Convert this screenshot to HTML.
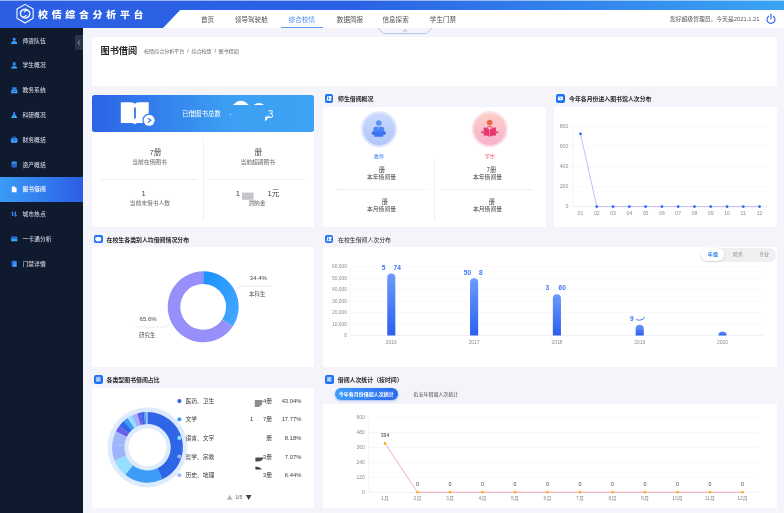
<!DOCTYPE html>
<html lang="zh-CN">
<head>
<meta charset="utf-8">
<title>校情综合分析平台 - 图书借阅</title>
<style>
*{box-sizing:border-box;margin:0;padding:0}
html,body{width:784px;height:513px;overflow:hidden}
body{position:relative;background:#f4f4fa;font-family:"Liberation Sans","Noto Sans CJK SC",sans-serif;color:#333;font-size:6px}
.a{position:absolute}
.c,.l,.r{position:absolute;white-space:nowrap;line-height:1}
.c{transform:translate(-50%,-50%)}
.l{transform:translate(0,-50%)}
.r{transform:translate(-100%,-50%)}
/* header */
#hd{left:0;top:0;width:784px;height:28px;background:linear-gradient(90deg,#2b5fe3 0%,#2b62e4 45%,#3aa4f3 100%)}
#nav{left:0;top:10px;width:784px;height:18px;background:#fff;clip-path:polygon(163px 18px,180.2px 0,784px 0,784px 18px)}
#logo{left:38.4px;top:14.5px;color:#fff;font-weight:900;font-size:9.4px;letter-spacing:3.5px;transform:translate(0,-50%) scaleX(1.06);transform-origin:0 50%}
.nv{top:20.1px;font-size:6.6px;color:#505050}
.nv.on{color:#4a8df5}
#ul{left:280.5px;top:26.6px;width:42.5px;height:1.2px;background:#5a97f3}
#usr{left:759.5px;top:19.9px;font-size:5.8px;color:#555}
/* sidebar */
#sb{left:0;top:28px;width:82.8px;height:485px;background:#0f1a2f}
.mi{left:22.5px;font-size:5.8px;color:#ccd3de;font-weight:500;margin-top:1px}
#act{left:0;top:176.8px;width:82.8px;height:24.9px;background:linear-gradient(90deg,#3a9cf6,#2b5ee6)}
#col{left:75.4px;top:35.3px;width:7.4px;height:14.7px;background:#2a3549;border-radius:1.5px 0 0 1.5px}
/* cards */
.cd{background:#fff;border-radius:2px}
.hi{width:8.6px;height:8.6px;background:#1d70f2;border-radius:2.1px;margin-top:-0.6px}
.ht{font-size:5.9px;font-weight:700;color:#2a2a2a;margin-top:0.6px}
.v{font-size:7.7px;color:#444}
.k{font-size:5.75px;color:#6a6a6a}
.dv{border-left:0.6px dotted #dfe1e8;width:0}
.dh{border-top:0.6px dotted #dfe1e8;height:0}
</style>
</head>
<body>
<!-- ===== header ===== -->
<div id="hd" class="a"></div>
<div id="nav" class="a"></div>
<div id="logo" class="l">校情综合分析平台</div>
<div class="c nv" style="left:207.5px">首页</div>
<div class="c nv" style="left:251.3px">领导驾驶舱</div>
<div class="c nv on" style="left:301.8px">综合校情</div>
<div class="c nv" style="left:350px">数据简报</div>
<div class="c nv" style="left:395.6px">信息探索</div>
<div class="c nv" style="left:443px">学生门禁</div>
<div id="ul" class="a"></div>
<div id="usr" class="r">您好超级管理员，今天是2021.1.21</div>

<!-- ===== sidebar ===== -->
<div id="sb" class="a"></div>
<div id="act" class="a"></div>
<div id="col" class="a"></div>
<div class="l mi" style="top:40.7px">师资队伍</div>
<div class="l mi" style="top:65.4px">学生概况</div>
<div class="l mi" style="top:90.2px">教务系统</div>
<div class="l mi" style="top:114.9px">科研概况</div>
<div class="l mi" style="top:139.7px">财务概括</div>
<div class="l mi" style="top:164.6px">资产概括</div>
<div class="l mi" style="top:189.4px;color:#fff">图书借阅</div>
<div class="l mi" style="top:214.1px">城市热点</div>
<div class="l mi" style="top:238.9px">一卡通分析</div>
<div class="l mi" style="top:263.7px">门禁详情</div>

<!-- ===== title card ===== -->
<div class="a cd" style="left:92px;top:36.5px;width:685px;height:49.5px"></div>
<div class="l" style="left:100.5px;top:51.6px;font-size:9.2px;font-weight:700;color:#2b2b2b">图书借阅</div>
<div class="l" style="left:144px;top:51.9px;font-size:5.05px;color:#666">校情综合分析平台&nbsp; /&nbsp; 综合校情&nbsp; /&nbsp; 图书借阅</div>

<!-- ===== row 1 ===== -->
<div class="a cd" style="left:92px;top:95px;width:222px;height:132px"></div>
<div class="a" style="left:92px;top:95px;width:222px;height:36.8px;border-radius:2.5px;background:linear-gradient(90deg,#2c63e6 0%,#3c9ff3 62%,#3ea3f4 100%)"></div>
<div class="l" style="left:182px;top:113.6px;font-size:6.5px;color:#fff">已借图书总数</div>
<div class="l" style="left:268.3px;top:113.9px;font-size:10.8px;color:#fff;transform:translate(0,-50%) scaleX(.88);transform-origin:0 50%">3</div>

<div class="a dv" style="left:203.2px;top:138px;height:83px"></div>
<div class="a dh" style="left:101px;top:179.2px;width:96px"></div>
<div class="a dh" style="left:210px;top:179.2px;width:96px"></div>
<div class="l v" style="left:149.6px;top:152.6px">7册</div>
<div class="c k" style="left:149.5px;top:163.2px">当前在借图书</div>
<div class="l v" style="left:254.6px;top:152.6px">册</div>
<div class="c k" style="left:257.8px;top:163.2px">当前超期图书</div>
<div class="l v" style="left:141.4px;top:194.2px">1</div>
<div class="c k" style="left:149.8px;top:204.2px">当前未借书人数</div>
<div class="l v" style="left:235.7px;top:194.2px">1</div>
<div class="l v" style="left:267.6px;top:194.2px">1元</div>
<div class="c k" style="left:257px;top:204.2px">滞纳金</div>

<div class="a hi" style="left:324.8px;top:94.6px"></div>
<div class="l ht" style="left:338px;top:99.6px">师生借阅概况</div>
<div class="a cd" style="left:323px;top:106.6px;width:222.5px;height:120px"></div>
<div class="c" style="left:378.8px;top:156.2px;font-size:5px;color:#3b7cf5">教师</div>
<div class="c" style="left:489.8px;top:156.2px;font-size:5px;color:#ee4d6f">学生</div>
<div class="a dv" style="left:434.3px;top:159px;height:62px"></div>
<div class="a dh" style="left:336px;top:189.3px;width:92px"></div>
<div class="a dh" style="left:441px;top:189.3px;width:92px"></div>
<div class="c v" style="left:382px;top:170.3px;font-size:6.3px">册</div>
<div class="c k" style="left:381.5px;top:178.2px;font-size:5.8px;color:#444">本年借阅量</div>
<div class="c v" style="left:491.5px;top:170.3px;font-size:6.3px">7册</div>
<div class="c k" style="left:487.5px;top:178.2px;font-size:5.8px;color:#444">本年借阅量</div>
<div class="c v" style="left:385px;top:202px;font-size:6.3px">册</div>
<div class="c k" style="left:381.5px;top:210px;font-size:5.8px;color:#444">本月借阅量</div>
<div class="c v" style="left:492px;top:202px;font-size:6.3px">册</div>
<div class="c k" style="left:487.5px;top:210px;font-size:5.8px;color:#444">本月借阅量</div>

<div class="a hi" style="left:556px;top:94.6px"></div>
<div class="l ht" style="left:569px;top:99.6px">今年各月份进入图书馆人次分布</div>
<div class="a cd" style="left:554.3px;top:106.6px;width:222.5px;height:120px"></div>

<!-- ===== row 2 ===== -->
<div class="a hi" style="left:94px;top:235.2px"></div>
<div class="l ht" style="left:106.6px;top:240.2px">在校生各类别人均借阅情况分布</div>
<div class="a cd" style="left:91.8px;top:247.2px;width:222.5px;height:120px"></div>

<div class="a hi" style="left:324.8px;top:235.2px"></div>
<div class="l ht" style="left:338px;top:240.2px;font-weight:400">在校生借阅人次分布</div>
<div class="a cd" style="left:323px;top:247.2px;width:454px;height:120px"></div>
<div class="a" style="left:700.8px;top:247.5px;width:75.6px;height:14px;border-radius:7px;background:#f0f0f3"></div>
<div class="a" style="left:701.4px;top:248.4px;width:22.9px;height:12.2px;border-radius:6.1px;background:#fff;box-shadow:0 0.6px 1.6px rgba(0,0,0,.2)"></div>
<div class="c" style="left:712.9px;top:255.1px;font-size:5.1px;font-weight:700;color:#2b7df2">年级</div>
<div class="c" style="left:738.1px;top:255.1px;font-size:5.1px;color:#8a8a8a">院系</div>
<div class="c" style="left:764.1px;top:255.1px;font-size:5.1px;color:#8a8a8a">专业</div>

<!-- ===== row 3 ===== -->
<div class="a hi" style="left:94px;top:375.5px"></div>
<div class="l ht" style="left:106.6px;top:380.6px">各类型图书借阅占比</div>
<div class="a cd" style="left:91.8px;top:387.6px;width:222.5px;height:120px"></div>

<div class="a hi" style="left:325px;top:375.5px"></div>
<div class="l ht" style="left:337.8px;top:380.6px">借阅人次统计（按时间）</div>
<div class="a" style="left:335px;top:388.3px;width:62.6px;height:11.5px;border-radius:5.8px;background:linear-gradient(90deg,#3c9cfb,#2c68ef);box-shadow:0 1px 2.5px rgba(43,110,240,.4)"></div>
<div class="c" style="left:366.3px;top:394.1px;font-size:5px;font-weight:700;color:#fff">今年各月份借阅人次统计</div>
<div class="c" style="left:436px;top:394.2px;font-size:5px;color:#444">近五年借阅人次统计</div>
<div class="a cd" style="left:322.6px;top:403.6px;width:454.3px;height:104px"></div>

<!-- ===== graphics overlay ===== -->
<svg class="a" style="left:0;top:0" width="784" height="513" viewBox="0 0 784 513" font-family="Liberation Sans, Noto Sans CJK SC, sans-serif">
<!--GFX-->
<defs>
<linearGradient id="gb" x1="0" y1="0" x2="0" y2="1"><stop offset="0" stop-color="#6b9bfb"/><stop offset="1" stop-color="#2b5ff0"/></linearGradient>
<linearGradient id="gd" x1="0" y1="0" x2="1" y2="1"><stop offset="0" stop-color="#1890ff"/><stop offset="1" stop-color="#4aa9ff"/></linearGradient>
<radialGradient id="gt" cx="0.5" cy="0.5" r="0.5"><stop offset="0" stop-color="#9db9fb"/><stop offset="0.78" stop-color="#b9cdfc"/><stop offset="0.8" stop-color="#d9e4fd"/><stop offset="1" stop-color="#e3ebfe"/></radialGradient>
<radialGradient id="gs" cx="0.5" cy="0.5" r="0.5"><stop offset="0" stop-color="#f7a3b6"/><stop offset="0.78" stop-color="#f9bccb"/><stop offset="0.8" stop-color="#fcdde4"/><stop offset="1" stop-color="#fde6eb"/></radialGradient>
</defs>
<g fill="none" stroke="#fff" stroke-width="1.05" stroke-linejoin="round" stroke-linecap="round">
<polygon points="25.05,4.35 33.10,9.00 33.10,18.30 25.05,22.95 17.00,18.30 17.00,9.00"/>
<path d="M28.2 10.4Q25.8 8.4 23 9.6Q20 11 20.4 14Q20.8 16.6 23.4 17Q25 17 26 15.4M22 16.8Q24.4 18.8 27.2 17.6Q30.2 16.2 29.8 13.2Q29.4 10.6 26.8 10.2Q25.2 10.2 24.2 11.8" stroke-width="1.25"/>
</g>
<rect x="0" y="0" width="784" height="0.7" fill="#fff" opacity="0.75"/>
<path d="M378 28L383.5 33.6H426.5L432 28" fill="#f4f4fa" stroke="#7fa8ee" stroke-width="0.6"/>
<path d="M403.2 31.6L405.2 29.8L407.2 31.6" fill="none" stroke="#5a8ff0" stroke-width="0.7"/>
<g fill="none" stroke="#2b62e8" stroke-width="1.1" stroke-linecap="round"><path d="M768.6 16.2a4 4 0 1 0 4.8 0"/><path d="M771 14.2v4.6"/></g>
<path d="M79.6 40.6L78 42.7L79.6 44.8" fill="none" stroke="#cfd6e4" stroke-width="0.7"/>
<linearGradient id="gi" x1="0" y1="0" x2="0" y2="1"><stop offset="0" stop-color="#2c74ee"/><stop offset="1" stop-color="#3fb0ff"/></linearGradient>
<circle cx="14.2" cy="39.1" r="1.55" fill="url(#gi)"/><path d="M11.2 43.900000000000006q0.2 -3.2 3 -3.2q2.8 0 3 3.2z" fill="url(#gi)"/>
<path d="M12.0 63.00000000000001l2.2 -1l2.2 1l-2.2 1z" fill="url(#gi)"/><circle cx="14.2" cy="64.2" r="1.35" fill="url(#gi)"/><path d="M11.2 68.60000000000001q0.2 -2.8 3 -2.8q2.8 0 3 2.8z" fill="url(#gi)"/>
<path d="M12.2 87.2h4.4v2.2h-4.4zM11.2 89.8h6.2v3.4h-6.2z" fill="url(#gi)"/><path d="M12.399999999999999 91.4h3.8" stroke="#0f1a2f" stroke-width="0.6" opacity="0.7"/>
<path d="M13.299999999999999 111.9h1.8v2l2 3.6q0.2 0.6 -0.6 0.6h-4.6q-0.8 0 -0.6 -0.6l2 -3.6z" fill="url(#gi)"/>
<path d="M12.799999999999999 138.1v-1.2h2.8v1.2" fill="none" stroke="#2c7cf0" stroke-width="0.7"/><rect x="10.899999999999999" y="137.89999999999998" width="6.6" height="4.8" rx="0.9" fill="url(#gi)"/><rect x="13.5" y="139.89999999999998" width="1.4" height="1" fill="#0f1a2f" opacity="0.55"/>
<path d="M11.399999999999999 162.4q2.8 -1.4 5.6 0v4.6q-2.8 1.4 -5.6 0z" fill="#2a5fc4"/><ellipse cx="14.2" cy="162.5" rx="2.8" ry="0.9" fill="#3f9df8"/>
<path d="M11.799999999999999 186.5h3l1.8 1.8v4h-4.8z" fill="#fff"/><path d="M14.799999999999999 186.5v1.8h1.8" fill="#bcd3fb"/>
<path d="M12.799999999999999 211.1l-1.9 2.2h1.3v2.6h1.2zM15.399999999999999 217.1l1.9 -2.2h-1.3v-3.4h-1.2z" fill="url(#gi)"/><rect x="13.7" y="212.1" width="0.9" height="4" fill="#2a62d8"/>
<rect x="11.1" y="236.6" width="6.2" height="4.6" rx="0.5" fill="url(#gi)"/><rect x="11.1" y="237.6" width="6.2" height="0.8" fill="#1f4fb4"/>
<rect x="11.7" y="260.7" width="5" height="6" rx="0.5" fill="url(#gi)"/><rect x="11.7" y="260.7" width="1.2" height="6" fill="#1f4fb4"/>
<path d="M120.8 102.2h10q3 0 4 1.5q1 -1.5 4 -1.5h9.9v20.8h-10.4q-2.5 0 -3.5 1.4q-1 -1.4 -3.5 -1.4h-10.5z" fill="#fff"/>
<rect x="134.1" y="107.5" width="1.8" height="11" fill="#3478ea"/>
<circle cx="149.1" cy="120.3" r="6.7" fill="#3580ec"/><circle cx="149.1" cy="120.3" r="5.5" fill="#fff"/>
<path d="M147.9 118.2L150.9 120.3L147.9 122.4" fill="none" stroke="#3580ec" stroke-width="1.2"/>
<path d="M233 105q7.9 -8.6 15.8 0zM253.6 105q5.2 -3.8 10.5 0z" fill="#fff"/>
<path d="M265.1 116.6h4.6l-4.6 5z" fill="#fff"/><circle cx="230.3" cy="114.6" r="0.55" fill="#fff"/>
<rect x="242" y="192.6" width="11.6" height="7.2" fill="#c4c6cc"/>
<path d="M327.40000000000003 96.1h1.1l-0.9 4.6h-1.1z" fill="#fff"/><path d="M328.90000000000003 96.1h1.6q1.2 0 1.2 1.2q0 1 -1 1.2l1.1 2.2h-3.6l0.3 -1.6h1.2l-0.5 -1h-0.6z" fill="#fff"/>
<rect x="557.9" y="96.4" width="5" height="3.8" rx="0.7" fill="#fff"/><path d="M558.9 97.4h1.4v1.2h1.2" fill="none" stroke="#5b9af6" stroke-width="0.7"/>
<ellipse cx="98.3" cy="239.1" rx="3.1" ry="2.3" fill="#fff"/><circle cx="96.6" cy="237.9" r="0.9" fill="#d6e6fd"/><circle cx="100" cy="237.9" r="0.9" fill="#d6e6fd"/>
<path d="M327.40000000000003 236.7h1.1l-0.9 4.6h-1.1z" fill="#fff"/><path d="M328.90000000000003 236.7h1.6q1.2 0 1.2 1.2q0 1 -1 1.2l1.1 2.2h-3.6l0.3 -1.6h1.2l-0.5 -1h-0.6z" fill="#fff"/>
<rect x="95.8" y="376.79999999999995" width="5" height="5" rx="0.5" fill="#7db1f8"/><path d="M96.5 378.0h3.6M96.5 379.29999999999995h2.6M96.5 380.59999999999997h3.6" stroke="#e6f0fe" stroke-width="0.7"/>
<rect x="326.8" y="376.79999999999995" width="5" height="5" rx="0.5" fill="#7db1f8"/><path d="M327.5 378.0h3.6M327.5 379.29999999999995h2.6M327.5 380.59999999999997h3.6" stroke="#e6f0fe" stroke-width="0.7"/>
<linearGradient id="gt2" x1="0" y1="0" x2="0" y2="1"><stop offset="0" stop-color="#cad9fd"/><stop offset="1" stop-color="#b1c6fb"/></linearGradient>
<linearGradient id="gs2" x1="0" y1="0" x2="0" y2="1"><stop offset="0" stop-color="#fbd0c8"/><stop offset="1" stop-color="#f7b1cb"/></linearGradient>
<circle cx="379" cy="129.3" r="18.1" fill="#dde7fe"/><circle cx="379" cy="129.3" r="16" fill="url(#gt2)"/>
<circle cx="489.8" cy="129.2" r="18.1" fill="#fde0e7"/><circle cx="489.8" cy="129.2" r="16" fill="url(#gs2)"/>
<circle cx="378.8" cy="123" r="2.8" fill="#5b90f8"/>
<path d="M373.4 131.8v-2.6q0 -2.4 2.4 -2.4h6q2.4 0 2.4 2.4v2.6z" fill="#4a83f5"/>
<rect x="371.6" y="131.2" width="14.4" height="3.8" rx="1.9" fill="#3a75f0"/><rect x="374.3" y="134.4" width="9" height="2.4" rx="0.4" fill="#3a75f0"/>
<path d="M378.8 126.4v2.4" stroke="#c7d6fc" stroke-width="0.7"/>
<circle cx="489.7" cy="122.6" r="2.8" fill="#f0634c"/>
<path d="M486.4 127.4q3.3 -1.8 6.6 0" fill="none" stroke="#ea4a66" stroke-width="0.9"/>
<path d="M483.6 127.6q3.4 -0.2 5.9 1.8v7.4q-2.5 -1.6 -5.9 -1.2zM495.9 127.6q-3.4 -0.2 -5.9 1.8v7.4q2.5 -1.6 5.9 -1.2z" fill="#e8356f"/>
<circle cx="482.2" cy="132.3" r="1.15" fill="#e8356f"/><circle cx="497.2" cy="132.3" r="1.15" fill="#e8356f"/>
<g font-size="5.2" fill="#909090">
<path d="M572.7 206.60H767.7" stroke="#dfe1e8" stroke-width="0.5"/>
<text x="568.3" y="208.30" text-anchor="end">0</text>
<path d="M572.7 186.43H767.7" stroke="#f0f1f5" stroke-width="0.5"/>
<text x="568.3" y="188.12" text-anchor="end">200</text>
<path d="M572.7 166.25H767.7" stroke="#f0f1f5" stroke-width="0.5"/>
<text x="568.3" y="167.95" text-anchor="end">400</text>
<path d="M572.7 146.07H767.7" stroke="#f0f1f5" stroke-width="0.5"/>
<text x="568.3" y="147.77" text-anchor="end">600</text>
<path d="M572.7 125.90H767.7" stroke="#f0f1f5" stroke-width="0.5"/>
<text x="568.3" y="127.60" text-anchor="end">800</text>
<path d="M572.7 125.9V206.6" stroke="#e6e8ee" stroke-width="0.5"/>
<text x="580.50" y="214.8" text-anchor="middle">01</text>
<text x="596.78" y="214.8" text-anchor="middle">02</text>
<text x="613.06" y="214.8" text-anchor="middle">03</text>
<text x="629.34" y="214.8" text-anchor="middle">04</text>
<text x="645.62" y="214.8" text-anchor="middle">05</text>
<text x="661.90" y="214.8" text-anchor="middle">06</text>
<text x="678.18" y="214.8" text-anchor="middle">07</text>
<text x="694.46" y="214.8" text-anchor="middle">08</text>
<text x="710.74" y="214.8" text-anchor="middle">09</text>
<text x="727.02" y="214.8" text-anchor="middle">10</text>
<text x="743.30" y="214.8" text-anchor="middle">11</text>
<text x="759.58" y="214.8" text-anchor="middle">12</text>
</g>
<polyline points="580.50,133.80 596.78,206.60 613.06,206.60 629.34,206.60 645.62,206.60 661.90,206.60 678.18,206.60 694.46,206.60 710.74,206.60 727.02,206.60 743.30,206.60 759.58,206.60" fill="none" stroke="#aaa4f6" stroke-width="0.7"/>
<circle cx="580.50" cy="133.80" r="1.4" fill="#2563f0"/>
<circle cx="596.78" cy="206.60" r="1.4" fill="#2563f0"/>
<circle cx="613.06" cy="206.60" r="1.4" fill="#2563f0"/>
<circle cx="629.34" cy="206.60" r="1.4" fill="#2563f0"/>
<circle cx="645.62" cy="206.60" r="1.4" fill="#2563f0"/>
<circle cx="661.90" cy="206.60" r="1.4" fill="#2563f0"/>
<circle cx="678.18" cy="206.60" r="1.4" fill="#2563f0"/>
<circle cx="694.46" cy="206.60" r="1.4" fill="#2563f0"/>
<circle cx="710.74" cy="206.60" r="1.4" fill="#2563f0"/>
<circle cx="727.02" cy="206.60" r="1.4" fill="#2563f0"/>
<circle cx="743.30" cy="206.60" r="1.4" fill="#2563f0"/>
<circle cx="759.58" cy="206.60" r="1.4" fill="#2563f0"/>
<path d="M203.20 271.30A35.5 35.5 0 0 1 232.69 326.57L222.22 319.55A22.9 22.9 0 0 0 203.20 283.90Z" fill="url(#gd)"/>
<path d="M232.69 326.57A35.5 35.5 0 1 1 203.20 271.30L203.20 283.90A22.9 22.9 0 1 0 222.22 319.55Z" fill="#978ffa"/>
<g fill="none" stroke="#d5d7de" stroke-width="0.5"><path d="M236 288.8L240.6 286.3H270.6"/><path d="M169.8 324.8L165 327H135.8"/></g>
<g font-size="6" fill="#444"><text x="249.8" y="279.8">34.4%</text><text x="249" y="295.8" font-size="5.5" fill="#555">本科生</text><text x="139.6" y="321">65.6%</text><text x="139" y="337.4" font-size="5.5" fill="#555">研究生</text></g>
<g font-size="4.9" fill="#8c8c8c">
<path d="M350 335.40H763.3" stroke="#dfe1e8" stroke-width="0.5"/>
<text x="347" y="337.00" text-anchor="end">0</text>
<path d="M350 323.90H763.3" stroke="#f0f1f5" stroke-width="0.5"/>
<text x="347" y="325.50" text-anchor="end">10,000</text>
<path d="M350 312.40H763.3" stroke="#f0f1f5" stroke-width="0.5"/>
<text x="347" y="314.00" text-anchor="end">20,000</text>
<path d="M350 300.90H763.3" stroke="#f0f1f5" stroke-width="0.5"/>
<text x="347" y="302.50" text-anchor="end">30,000</text>
<path d="M350 289.40H763.3" stroke="#f0f1f5" stroke-width="0.5"/>
<text x="347" y="291.00" text-anchor="end">40,000</text>
<path d="M350 277.90H763.3" stroke="#f0f1f5" stroke-width="0.5"/>
<text x="347" y="279.50" text-anchor="end">50,000</text>
<path d="M350 266.40H763.3" stroke="#f0f1f5" stroke-width="0.5"/>
<text x="347" y="268.00" text-anchor="end">60,000</text>
<path d="M350 266.4V335.4" stroke="#e6e8ee" stroke-width="0.5"/>
<text x="391.30" y="343.6" text-anchor="middle" fill="#8a8a8a">2016</text>
<text x="474.10" y="343.6" text-anchor="middle" fill="#8a8a8a">2017</text>
<text x="556.90" y="343.6" text-anchor="middle" fill="#8a8a8a">2018</text>
<text x="639.70" y="343.6" text-anchor="middle" fill="#8a8a8a">2019</text>
<text x="722.50" y="343.6" text-anchor="middle" fill="#8a8a8a">2020</text>
</g>
<path d="M387.25 335.4V277.65a4.05 4.05 0 0 1 8.1 0V335.4z" fill="url(#gb)"/>
<path d="M470.05 335.4V282.25a4.05 4.05 0 0 1 8.1 0V335.4z" fill="url(#gb)"/>
<path d="M552.85 335.4V298.25a4.05 4.05 0 0 1 8.1 0V335.4z" fill="url(#gb)"/>
<path d="M635.65 335.4V328.85a4.05 4.05 0 0 1 8.1 0V335.4z" fill="url(#gb)"/>
<path d="M718.45 335.4V335.40a4.05 4.00 0 0 1 8.1 0V335.4z" fill="url(#gb)"/>
<g font-size="6.6" font-weight="700" fill="#3a78f2">
<text x="381.8" y="270">5</text><text x="393.6" y="270">74</text>
<text x="463.8" y="274.5">50</text><text x="479" y="274.5">8</text>
<text x="545.6" y="290">3</text><text x="558.6" y="290">60</text>
<text x="630" y="321">9</text>
<path d="M636.2 319.6q3.4 1.4 7 -0.4l1.4 -2.4" fill="none" stroke="#3a78f2" stroke-width="0.9"/>
</g>
<circle cx="147.5" cy="447.3" r="40" fill="#deeafd"/>
<path d="M147.50 411.90A35.4 35.4 0 0 1 162.52 479.36L157.34 468.31A23.2 23.2 0 0 0 147.50 424.10Z" fill="#2f66e8"/>
<path d="M162.52 479.36A35.4 35.4 0 0 1 125.27 474.85L132.93 465.36A23.2 23.2 0 0 0 157.34 468.31Z" fill="#3d9cf5"/>
<path d="M125.27 474.85A35.4 35.4 0 0 1 114.59 460.33L125.93 455.84A23.2 23.2 0 0 0 132.93 465.36Z" fill="#95defd"/>
<path d="M114.59 460.33A35.4 35.4 0 0 1 112.18 444.95L124.35 445.76A23.2 23.2 0 0 0 125.93 455.84Z" fill="#9db3fd"/>
<path d="M112.18 444.95A35.4 35.4 0 0 1 115.96 431.23L126.83 436.77A23.2 23.2 0 0 0 124.35 445.76Z" fill="#a0b6fd"/>
<path d="M115.96 431.23A35.4 35.4 0 0 1 119.23 426.00L128.97 433.34A23.2 23.2 0 0 0 126.83 436.77Z" fill="#6c5ce7"/>
<path d="M119.23 426.00A35.4 35.4 0 0 1 123.81 420.99L131.98 430.06A23.2 23.2 0 0 0 128.97 433.34Z" fill="#2f66e8"/>
<path d="M123.81 420.99A35.4 35.4 0 0 1 127.70 417.95L134.53 428.07A23.2 23.2 0 0 0 131.98 430.06Z" fill="#3d9cf5"/>
<path d="M127.70 417.95A35.4 35.4 0 0 1 131.43 415.76L136.97 426.63A23.2 23.2 0 0 0 134.53 428.07Z" fill="#95defd"/>
<path d="M131.43 415.76A35.4 35.4 0 0 1 137.15 413.45L140.72 425.11A23.2 23.2 0 0 0 136.97 426.63Z" fill="#9db3fd"/>
<path d="M137.15 413.45A35.4 35.4 0 0 1 140.75 412.55L143.07 424.53A23.2 23.2 0 0 0 140.72 425.11Z" fill="#6c5ce7"/>
<path d="M140.75 412.55A35.4 35.4 0 0 1 143.80 412.09L145.07 424.23A23.2 23.2 0 0 0 143.07 424.53Z" fill="#2f66e8"/>
<path d="M143.80 412.09A35.4 35.4 0 0 1 145.65 411.95L146.29 424.13A23.2 23.2 0 0 0 145.07 424.23Z" fill="#3d9cf5"/>
<path d="M145.65 411.95A35.4 35.4 0 0 1 147.50 411.90L147.50 424.10A23.2 23.2 0 0 0 146.29 424.13Z" fill="#9db3fd"/>
<circle cx="147.5" cy="447.3" r="19" fill="#fff"/>
<g font-size="5.8" fill="#3c3c3c">
<circle cx="179.4" cy="401.1" r="2.1" fill="#2f66e8"/><text x="185.4" y="403.1">医药、卫生</text><text x="272" y="403.1" text-anchor="end">4册</text><text x="301.3" y="403.1" text-anchor="end">43.04%</text>
<circle cx="179.4" cy="419.3" r="2.1" fill="#3d9cf5"/><text x="185.4" y="421.3">文学</text><text x="272" y="421.3" text-anchor="end">7册</text><text x="301.3" y="421.3" text-anchor="end">17.77%</text>
<circle cx="179.4" cy="437.9" r="2.1" fill="#8edbfd"/><text x="185.4" y="439.9">语言、文字</text><text x="272" y="439.9" text-anchor="end">册</text><text x="301.3" y="439.9" text-anchor="end">8.18%</text>
<circle cx="179.4" cy="456.5" r="2.1" fill="#a4b0f8"/><text x="185.4" y="458.5">哲学、宗教</text><text x="272" y="458.5" text-anchor="end">3册</text><text x="301.3" y="458.5" text-anchor="end">7.07%</text>
<circle cx="179.4" cy="475.2" r="2.1" fill="#a3bdfd"/><text x="185.4" y="477.2">历史、地理</text><text x="272" y="477.2" text-anchor="end">3册</text><text x="301.3" y="477.2" text-anchor="end">6.44%</text>
<text x="250" y="421.3">1</text>
</g>
<path d="M254.8 399.9h7.6v2.6q-0.4 4 -4.6 4.4h-3z" fill="#8a8c92"/><path d="M255.4 457.4h8.2q-1 3.6 -5 4h-3.2z" fill="#4a4c50"/><path d="M255.4 466.8q4.6 -0.2 6.3 2.8h-6.3z" fill="#3a3c40"/>
<path d="M226.9 499.8h5.6l-2.8 -5z" fill="#b4b6ba"/><path d="M245.9 495h5.6l-2.8 5z" fill="#2f4554"/><text x="238.8" y="499.2" font-size="4.8" fill="#555" text-anchor="middle">1/5</text>
<g font-size="5" fill="#8c8c8c">
<path d="M368.7 492.30H758.2" stroke="#dfe1e8" stroke-width="0.5"/>
<text x="364.8" y="493.90" text-anchor="end">0</text>
<path d="M368.7 477.38H758.2" stroke="#f0f1f5" stroke-width="0.5"/>
<text x="364.8" y="478.98" text-anchor="end">120</text>
<path d="M368.7 462.46H758.2" stroke="#f0f1f5" stroke-width="0.5"/>
<text x="364.8" y="464.06" text-anchor="end">240</text>
<path d="M368.7 447.54H758.2" stroke="#f0f1f5" stroke-width="0.5"/>
<text x="364.8" y="449.14" text-anchor="end">360</text>
<path d="M368.7 432.62H758.2" stroke="#f0f1f5" stroke-width="0.5"/>
<text x="364.8" y="434.22" text-anchor="end">480</text>
<path d="M368.7 417.70H758.2" stroke="#f0f1f5" stroke-width="0.5"/>
<text x="364.8" y="419.30" text-anchor="end">600</text>
<path d="M368.7 417.7V492.3" stroke="#e6e8ee" stroke-width="0.5"/>
<text x="385.00" y="500" text-anchor="middle">1月</text>
<text x="417.50" y="500" text-anchor="middle">2月</text>
<text x="450.00" y="500" text-anchor="middle">3月</text>
<text x="482.50" y="500" text-anchor="middle">4月</text>
<text x="515.00" y="500" text-anchor="middle">5月</text>
<text x="547.50" y="500" text-anchor="middle">6月</text>
<text x="580.00" y="500" text-anchor="middle">7月</text>
<text x="612.50" y="500" text-anchor="middle">8月</text>
<text x="645.00" y="500" text-anchor="middle">9月</text>
<text x="677.50" y="500" text-anchor="middle">10月</text>
<text x="710.00" y="500" text-anchor="middle">11月</text>
<text x="742.50" y="500" text-anchor="middle">12月</text>
</g>
<polyline points="385.00,443.40 417.50,492.30 450.00,492.30 482.50,492.30 515.00,492.30 547.50,492.30 580.00,492.30 612.50,492.30 645.00,492.30 677.50,492.30 710.00,492.30 742.50,492.30" fill="none" stroke="#f596a8" stroke-width="0.8"/>
<g font-size="5.2" fill="#444" text-anchor="middle">
<circle cx="385.00" cy="443.40" r="1.3" fill="#fbab1e"/><text x="385.00" y="437.40">394</text>
<circle cx="417.50" cy="492.30" r="1.3" fill="#fbab1e"/><text x="417.50" y="486.30">0</text>
<circle cx="450.00" cy="492.30" r="1.3" fill="#fbab1e"/><text x="450.00" y="486.30">0</text>
<circle cx="482.50" cy="492.30" r="1.3" fill="#fbab1e"/><text x="482.50" y="486.30">0</text>
<circle cx="515.00" cy="492.30" r="1.3" fill="#fbab1e"/><text x="515.00" y="486.30">0</text>
<circle cx="547.50" cy="492.30" r="1.3" fill="#fbab1e"/><text x="547.50" y="486.30">0</text>
<circle cx="580.00" cy="492.30" r="1.3" fill="#fbab1e"/><text x="580.00" y="486.30">0</text>
<circle cx="612.50" cy="492.30" r="1.3" fill="#fbab1e"/><text x="612.50" y="486.30">0</text>
<circle cx="645.00" cy="492.30" r="1.3" fill="#fbab1e"/><text x="645.00" y="486.30">0</text>
<circle cx="677.50" cy="492.30" r="1.3" fill="#fbab1e"/><text x="677.50" y="486.30">0</text>
<circle cx="710.00" cy="492.30" r="1.3" fill="#fbab1e"/><text x="710.00" y="486.30">0</text>
<circle cx="742.50" cy="492.30" r="1.3" fill="#fbab1e"/><text x="742.50" y="486.30">0</text>
</g>
<!--/GFX-->
</svg>
</body>
</html>
